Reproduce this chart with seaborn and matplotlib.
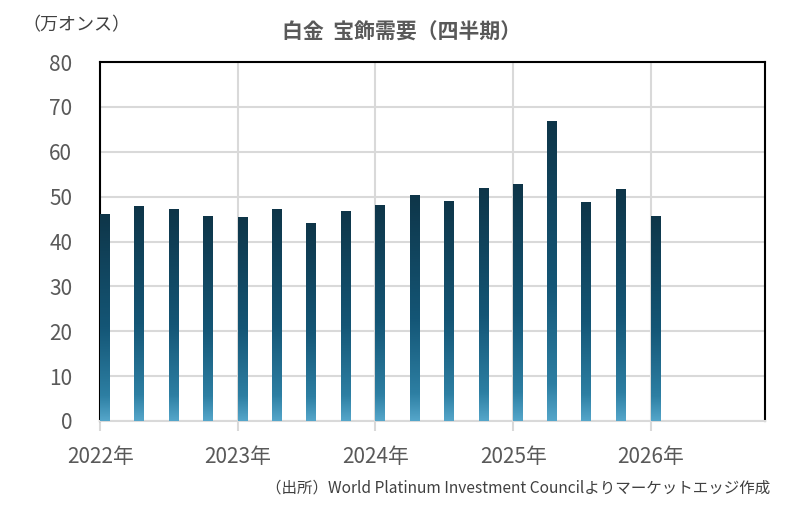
import matplotlib
matplotlib.use("Agg")
import matplotlib.pyplot as plt
import matplotlib.dates as mdates
from matplotlib.colors import LinearSegmentedColormap
import numpy as np
import pandas as pd
import seaborn as sns
import datetime as dt

# 四半期ごとの宝飾需要（万オンス）
quarters = pd.date_range("2022-01-01", periods=17, freq="QS")
demand = [46.2, 48.0, 47.2, 45.7, 45.4, 47.2, 44.2, 46.9,
          48.2, 50.4, 49.1, 52.0, 52.9, 66.9, 48.9, 51.8, 45.8]
years = [2022, 2023, 2024, 2025, 2026]
yticks = [0, 10, 20, 30, 40, 50, 60, 70, 80]

sns.set_theme(style="white")
plt.rcParams["font.family"] = ["Noto Sans CJK JP", "DejaVu Sans"]

gray = "#595959"
gridc = "#d9d9d9"

fig = plt.figure(figsize=(7.88, 5.09), dpi=100)
ax = fig.add_axes([0.127, 0.173, 0.844, 0.705])

# 棒は四半期の初日から始まるように中心をずらす
bar_days = 24
xnum = mdates.date2num(quarters.to_pydatetime()) + bar_days / 2
df = pd.DataFrame({"x": xnum, "demand": demand})
sns.barplot(data=df, x="x", y="demand", native_scale=True,
            width=bar_days / 90, color="#134f6b", ax=ax, zorder=3)

# グラデーション（上が濃紺、下が明るい青）
cmap = LinearSegmentedColormap.from_list(
    "grad", [(0.0, "#55a6ca"), (0.12, "#2d7fa3"), (0.45, "#145676"), (1.0, "#0e3548")])
grad = np.linspace(0, 1, 256).reshape(-1, 1)
for p in list(ax.patches):
    x0, y0 = p.get_x(), p.get_y()
    w, h = p.get_width(), p.get_height()
    im = ax.imshow(grad, extent=[x0, x0 + w, y0, y0 + h], origin="lower",
                   aspect="auto", cmap=cmap, zorder=3)
    im.set_clip_path(p)
    p.set_facecolor("none")
    p.set_edgecolor("none")

ax.set_xlim(mdates.date2num(dt.datetime(2022, 1, 1)) - 1,
            mdates.date2num(dt.datetime(2026, 11, 1)))
ax.set_ylim(0, 80)

ax.set_yticks(yticks)
ax.set_yticklabels([str(v) for v in yticks])
xt = [mdates.date2num(dt.datetime(y, 1, 1)) for y in years]
ax.set_xticks(xt)
ax.set_xticklabels([f"{y}年" for y in years])

ax.grid(True, color=gridc, linewidth=1.5)
ax.set_axisbelow(True)
ax.tick_params(axis="y", length=0, pad=20, labelsize=15, labelcolor=gray)
ax.tick_params(axis="x", length=7, width=1.5, color=gridc, direction="out",
               pad=11, labelsize=15, labelcolor=gray, bottom=True)
ax.set_xlabel("")
ax.set_ylabel("")

for side in ["left", "top", "right"]:
    ax.spines[side].set_color("black")
    ax.spines[side].set_linewidth(1.5)
    ax.spines[side].set_visible(True)
ax.spines["bottom"].set_color(gridc)
ax.spines["bottom"].set_linewidth(1.5)
ax.spines["bottom"].set_visible(True)

fig.text(0.51, 0.937, "白金  宝飾需要（四半期）", ha="center", va="center",
         fontsize=15, fontweight="bold", color=gray)
fig.text(0.028, 0.951, "（万オンス）", ha="left", va="center",
         fontsize=13, color="#404040")
fig.text(0.978, 0.041,
         "（出所）World Platinum Investment Councilよりマーケットエッジ作成",
         ha="right", va="center", fontsize=11.2, color="#404040")

fig.savefig("out.png", dpi=100)
